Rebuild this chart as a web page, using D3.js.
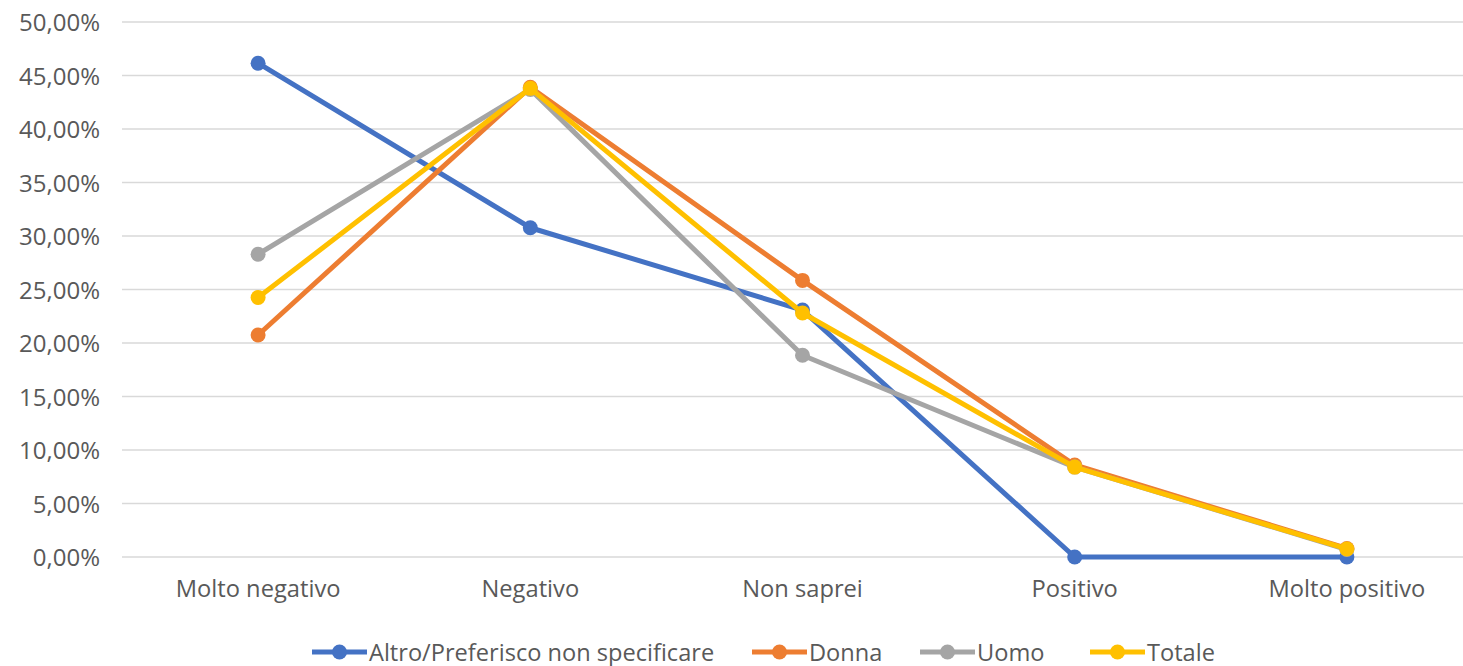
<!DOCTYPE html>
<html><head><meta charset="utf-8">
<script src="https://cdn.jsdelivr.net/npm/d3@7"></script>
<style>
html,body{margin:0;padding:0;background:#fff;}
text{font-family:"Open Sans","Noto Sans",sans-serif;fill:#595959;}
</style></head>
<body><svg id="c" width="1463" height="666"></svg>
<script>
const categories = ["Molto negativo","Negativo","Non saprei","Positivo","Molto positivo"];
const seriesNames = ["Altro/Preferisco non specificare","Donna","Uomo","Totale"];
const altro  = [46.15, 30.77, 23.08, 0.00, 0.00];
const donna  = [20.75, 43.90, 25.85, 8.60, 0.80];
const uomo   = [28.30, 43.70, 18.85, 8.40, 0.70];
const totale = [24.25, 43.80, 22.80, 8.40, 0.75];
const yTicks = [0,5,10,15,20,25,30,35,40,45,50];
const colors = ["#4472C4","#ED7D31","#A5A5A5","#FFC000"];
const seriesValues = [altro, donna, uomo, totale];

const svg = d3.select("#c");
const x = d3.scaleBand().domain(categories).range([122,1483]);
const y = d3.scaleLinear().domain([0,50]).range([557,22]);
const fmt = v => v.toFixed(2).replace(".", ",") + "%";

// gridlines
svg.append("g").selectAll("line").data(yTicks).join("line")
  .attr("x1",122).attr("x2",1483)
  .attr("y1",d=>y(d)).attr("y2",d=>y(d))
  .attr("stroke","#D9D9D9").attr("stroke-width",1.3);

// y axis labels
const yAxis = d3.axisLeft(y).tickValues(yTicks).tickFormat(fmt).tickSize(0).tickPadding(0);
const ga = svg.append("g").attr("transform","translate(100,0)").call(yAxis);
ga.select(".domain").remove();
ga.selectAll("text").attr("font-size",24).attr("fill","#595959")
  .attr("font-family","'Open Sans',sans-serif").attr("dy","0.36em");

// x axis labels
const xAxis = d3.axisBottom(x).tickSize(0).tickPadding(0);
const gx = svg.append("g").attr("transform","translate(0,597)").call(xAxis);
gx.select(".domain").remove();
gx.selectAll("text").attr("font-size",23.7).attr("fill","#595959")
  .attr("font-family","'Open Sans',sans-serif").attr("y",0).attr("dy","0");

const cx = c => x(c) + x.bandwidth()/2;
const line = d3.line().x((d,i)=>cx(categories[i])).y(d=>y(d));

seriesValues.forEach((vals,k)=>{
  const g = svg.append("g");
  g.append("path").datum(vals).attr("d",line).attr("fill","none")
    .attr("stroke",colors[k]).attr("stroke-width",5).attr("stroke-linejoin","round");
  g.selectAll("circle").data(vals).join("circle")
    .attr("cx",(d,i)=>cx(categories[i])).attr("cy",d=>y(d)).attr("r",7.5)
    .attr("fill",colors[k]);
});

// legend
const legendX = [312, 752, 920, 1090];
const lg = svg.append("g");
seriesNames.forEach((n,k)=>{
  const g = lg.append("g").attr("transform",`translate(${legendX[k]},652)`);
  g.append("line").attr("x1",0).attr("x2",55).attr("y1",0).attr("y2",0)
    .attr("stroke",colors[k]).attr("stroke-width",5);
  g.append("circle").attr("cx",27.5).attr("cy",0).attr("r",7.5).attr("fill",colors[k]);
  g.append("text").attr("x",57).attr("y",0).attr("dy","0.36em")
    .attr("font-size",23.6).text(n);
});
</script></body></html>
